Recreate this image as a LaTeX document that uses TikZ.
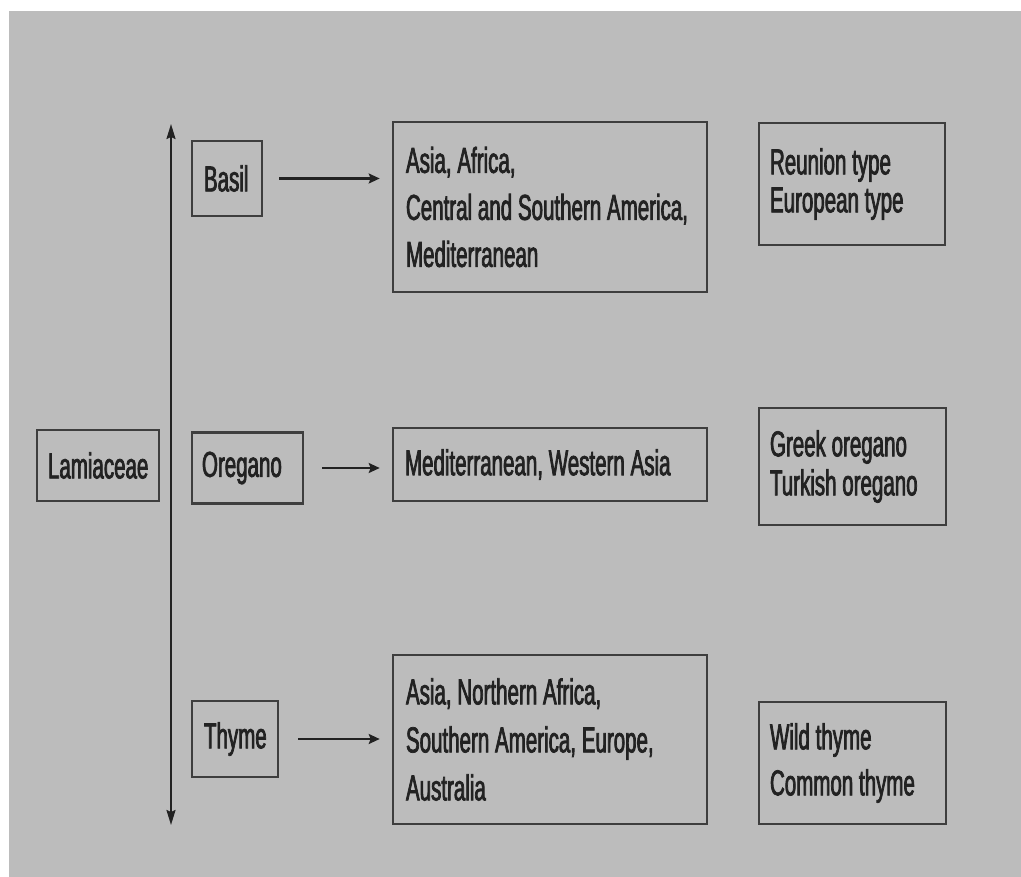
\documentclass[tikz,border=0pt]{standalone}
\usepackage{fontspec}
\setmainfont{Liberation Sans}[FakeStretch=0.57, FakeBold=2]
\usetikzlibrary{arrows.meta}
\definecolor{fond}{RGB}{188,188,188}
\definecolor{trait}{RGB}{62,62,62}
\definecolor{texte}{RGB}{34,34,34}
% police etroite, espaces resserres
\newcommand{\police}[1]{\fontsize{36}{#1}\selectfont
  \spaceskip=5.8pt\xspaceskip=5.8pt\hyphenpenalty=10000}

\begin{document}
\begin{tikzpicture}[x=1pt,y=-1pt,
    boite/.style={draw=trait, line width=2.6pt, text=texte, inner xsep=12pt,
      inner ysep=0pt, align=flush left, font=\police{47},
      execute at begin node={\spaceskip=5.8pt\xspaceskip=5.8pt}},
    fleche/.style={draw=texte, line width=2.6pt,
      -{Stealth[length=11pt,width=10pt,inset=2pt]}},
    axe/.style={draw=texte, line width=2pt,
      {Stealth[length=15pt,width=9pt,inset=2pt]}-{Stealth[length=15pt,width=9pt,inset=2pt]}}]
        % Fond
        \useasboundingbox (0,0) rectangle (1021,877);
        \fill[fond] (9,11) rectangle (1021,877);
        % Famille
        \node[boite, text width=100pt, inner xsep=11pt, minimum height=71pt] (lam) at (98,465.5) {Lamiaceae};
        % Axe vertical
        \coordinate (haut) at (171,124);
        \coordinate (bas) at (171,825);
        \draw[axe] (haut) -- (bas);
        % Plantes
        \node[boite, text width=46pt, minimum height=75pt] (basil) at (227,178.5) {Basil};
        \node[boite, minimum height=71pt, inner xsep=10pt, text width=91pt] (oregano) at (247.5,468) {Oregano};
        \node[boite, text width=62pt, minimum height=76pt] (thyme) at (235,739) {Thyme};
        % Origines
        \node[boite, text width=288pt, inner xsep=13pt, minimum height=170pt] (orig1) at (550,207)
            {Asia, Africa,\\Central and Southern America,\\Mediterranean};
        \node[boite, text width=290pt, minimum height=73pt] (orig2) at (550,464.5)
            {Mediterranean, Western Asia};
        \node[boite, text width=288pt, inner xsep=13pt, minimum height=169pt,
            font=\police{48}] (orig3) at (550,739.5)
            {Asia, Northern Africa,\\Southern America, Europe,\\Australia};
        % Types
        \node[boite, text width=164pt, inner xsep=11pt, minimum height=122pt,
            font=\police{38}] (type1) at (852,184)
            {Reunion type\\European type};
        \node[boite, text width=165pt, inner xsep=11pt, minimum height=117pt,
            font=\police{39}] (type2) at (852.5,466.5)
            {Greek oregano\\Turkish oregano};
        \node[boite, text width=165pt, inner xsep=11pt, minimum height=122pt,
            font=\police{46}] (type3) at (852.5,763)
            {Wild thyme\\Common thyme};
        % Fleches
        \draw[fleche, shorten <=16pt, shorten >=12pt] (basil.east) -- (basil.east -| orig1.west);
        \draw[fleche, shorten <=18pt, shorten >=12pt] (oregano.east) -- (oregano.east -| orig2.west);
        \draw[fleche, shorten <=19pt, shorten >=12pt] (thyme.east) -- (thyme.east -| orig3.west);
    \end{tikzpicture}
\end{document}
